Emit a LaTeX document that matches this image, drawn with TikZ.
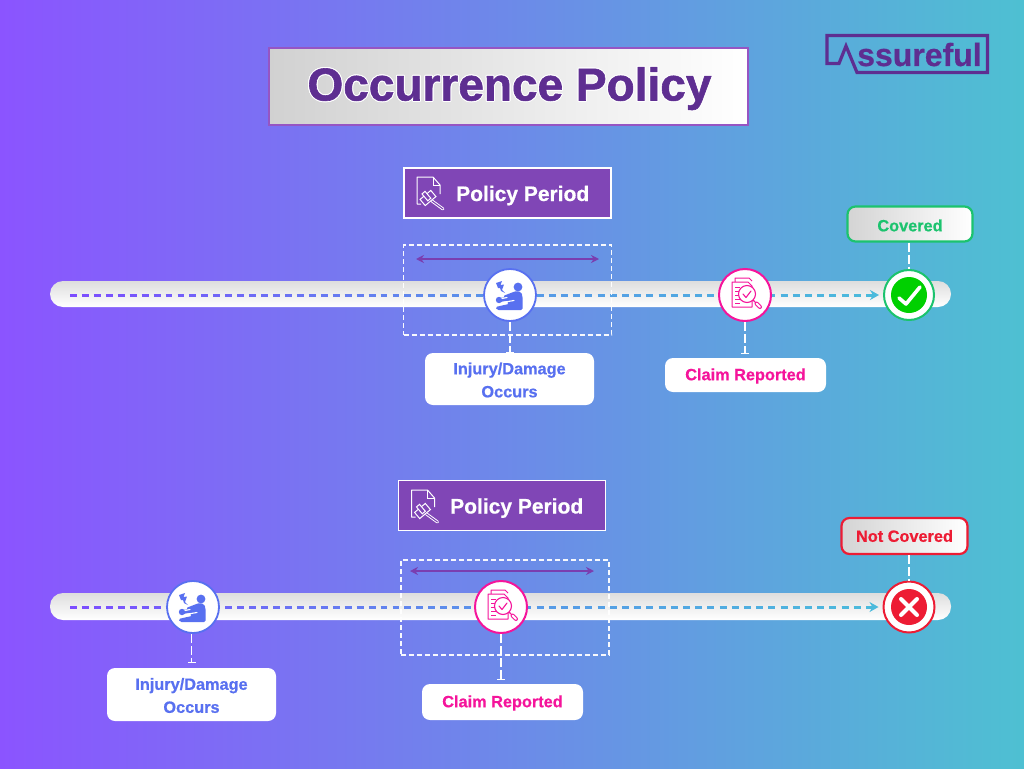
\documentclass[tikz,border=0pt]{standalone}
\usepackage{fontspec}
\usepackage[copies]{contour}
\contourlength{1pt}
\contournumber{16}
\setmainfont{Liberation Sans}[BoldFeatures={FakeBold=0.6}]
\newfontfamily\titlefont{Liberation Sans Bold}[FakeBold=1.3]
\usetikzlibrary{arrows.meta,calc,shapes.misc}
\definecolor{bgL}{RGB}{139,84,255}
\definecolor{bgR}{RGB}{78,192,210}
\definecolor{titleC}{RGB}{94,46,145}
\definecolor{titleB}{RGB}{150,85,195}
\definecolor{periodC}{RGB}{128,70,182}
\definecolor{arrowC}{RGB}{122,62,176}
\definecolor{blueC}{RGB}{88,112,240}
\definecolor{pinkC}{RGB}{245,20,155}
\definecolor{greenC}{RGB}{28,195,110}
\definecolor{okC}{RGB}{0,208,0}
\definecolor{redC}{RGB}{237,28,52}
\definecolor{lineA}{RGB}{124,77,255}
\definecolor{lineB}{RGB}{88,150,232}
\definecolor{lineC}{RGB}{75,186,220}
\newcommand{\gradseg}[5]{%
  \foreach \i in {1,...,#5}{%
    \pgfmathsetmacro{\ta}{(\i-1)/#5}%
    \pgfmathsetmacro{\tb}{(\i-0.42)/#5}%
    \pgfmathsetmacro{\pc}{100*(\i-1)/#5}%
    \draw[line width=3pt,color={#4!\pc!#3}] ($(#1)!\ta!(#2)$) -- ($(#1)!\tb!(#2)$);
  }}
\newcommand{\lowered}[2]{\raisebox{-#1pt}[\height][\depth]{#2}}
\tikzset{
  x=1pt,y=-1pt,
  barbox/.style={draw=none,rounded corners=13pt,minimum width=901pt,minimum height=26pt,inner sep=0pt,top color=black!13,bottom color=white},
  periodbox/.style={draw=white,line width=1.3pt,fill=periodC,minimum width=207pt,minimum height=50pt,inner sep=0pt},
  periodtext/.style={text=white,font=\fontsize{21}{24}\selectfont\bfseries,inner sep=0pt,anchor=base west},
  spanbox/.style={draw=white,draw opacity=.95,line width=1.1pt,dash pattern=on 5pt off 3pt,minimum width=208pt,inner sep=0pt},
  spanarrow/.style={draw=arrowC,line width=2.1pt,{Stealth[length=8pt,width=8pt]}-{Stealth[length=8pt,width=8pt]}},
  labelbox/.style={fill=white,rounded corners=8pt,inner sep=0pt,align=center,font=\fontsize{16.3}{23}\selectfont\bfseries},
  statusbox/.style={rounded corners=8pt,line width=2.2pt,left color=black!17,right color=white,inner sep=0pt,font=\fontsize{16.3}{18}\selectfont\bfseries},
  dot/.style={circle,fill=white,inner sep=0pt,minimum size=#1},
  stem/.style={draw=white,line width=1.3pt,dash pattern=on 9pt off 3pt,-{Bar[width=8pt,length=1pt]}},
  plainstem/.style={draw=white,line width=1.3pt,dash pattern=on 9pt off 3pt},
  docicon/.pic={
    \draw[white,line width=1pt,line join=round] (-8,12) -- (-12,12) -- (-12,-15) -- (4,-15) -- (11,-7) -- (11,2);
    \draw[white,line width=1pt] (4,-15) -- (4,-7) -- (11,-7);
    \draw[white,line width=1pt,fill=periodC,rotate around={40:(-1,6)}] (-8,2) rectangle (6,10);
    \draw[white,line width=1pt,fill=periodC,rotate around={40:(-1,6)}] (-3,8) rectangle (1,-1);
    \draw[white,line width=3pt,line cap=round] (3,9) -- (14,17);
    \draw[periodC,line width=1.1pt,line cap=round] (3,9) -- (14,17);
  },
  injuryicon/.pic={
    \fill[blueC] (8,-8) circle (4.4);
    \fill[blueC,rounded corners=1.5pt] (-7,1) -- (6,-4) -- (11,-3) -- (12.5,1) -- (12.5,15) -- (-13,15) -- (-14.5,12) -- (-8,10.5) -- (-1,9) -- cycle;
    \fill[blueC] (-11,5) circle (3.2);
    \draw[blueC,line width=4pt,line cap=round] (-10,5) -- (-3,4);
    \draw[white,line width=1.1pt,line cap=round] (-8,7.5) -- (4,5.5);
    \draw[white,line width=1.1pt,line cap=round] (-8,3.5) -- (-3,2.5);
    \fill[blueC] (-14,-12) -- (-8,-14) -- (-9.5,-10) -- (-6,-10.5) -- (-8,-5) -- (-5,-2) -- (-9,-4) -- (-10,-7) -- (-12,-7) -- cycle;
  },
  claimicon/.pic={
    \draw[pinkC,line width=1pt,line join=round] (-10,-13) -- (-10,-17) -- (4,-17) -- (7,-14);
    \draw[pinkC,line width=1pt,fill=white,line join=round] (-13,-13) -- (3,-13) -- (7,-9) -- (7,12) -- (-13,12) -- cycle;
    \foreach \yy in {-8,-4,0,4,8}{\draw[pinkC,line width=1pt] (-10,\yy) -- (-5,\yy);}
    \draw[pinkC,line width=1.1pt,fill=white] (2,-1) circle (8.5);
    \draw[pinkC,line width=1.1pt,line cap=round,line join=round] (-2,-1) -- (1,2.5) -- (6,-4);
    \draw[pinkC,line width=1.1pt] (8,5) -- (10,7);
    \draw[pinkC,line width=4pt,line cap=round] (11.5,8.5) -- (15,12);
    \draw[white,line width=2pt,line cap=round] (11.5,8.5) -- (15,12);
  },
  okicon/.pic={
    \fill[okC] (0,0) circle (18);
    \draw[white,line width=3.6pt,line cap=round,line join=round] (-10,3) -- (-3,9) -- (11,-8);
  },
  xicon/.pic={
    \fill[redC] (0,0) circle (18);
    \draw[white,line width=4pt,line cap=round] (-8,-8) -- (8,8) (-8,8) -- (8,-8);
  }
}
\begin{document}
\begin{tikzpicture}
\useasboundingbox (0,0) rectangle (1024,768);
\shade[left color=bgL,right color=bgR] (0,0) rectangle (1024,768);

% title
\node[draw=titleB,line width=1.1pt,left color=black!18,right color=white,minimum width=479pt,minimum height=77pt,inner sep=0pt] (title) at (508.5,86.5) {};
\node[text=titleC,font=\fontsize{46}{50}\selectfont\titlefont,inner sep=0pt,anchor=base] (titletext) at (509.5,100.5) {\contour{white}{Occurrence Policy}};

% logo
\draw[titleC,line width=3.2pt,line join=miter] (827,63.5) -- (827,35.5) -- (987.5,35.5) -- (987.5,72.5) -- (857,72.5) -- (846,46) -- (839,63.5) -- cycle;
\node[text=titleC,font=\fontsize{32}{34}\selectfont\bfseries,inner sep=0pt,anchor=base west] (logotext) at (857,66) {ssureful};

% ---------- upper timeline ----------
\node[barbox] (barA) at (500.5,294) {};
\coordinate (sA) at (70,295);
\coordinate (mA) at (500,295);
\coordinate (eA) at (866,295);
\gradseg{sA}{mA}{lineA}{lineB}{36}
\gradseg{mA}{eA}{lineB}{lineC}{30}
\node[periodbox] (periodA) at (507.5,193) {};
\pic at (429,192) {docicon};
\node[periodtext] (periodtextA) at (456,201) {Policy Period};
\node[spanbox,minimum height=90pt] (spanA) at (507.5,290) {};
\coordinate (spanAl) at (416,259);
\coordinate (spanAr) at (599,259);
\draw[spanarrow] (spanAl) -- (spanAr);

\node[dot=52pt,draw=blueC,line width=1.8pt] (injA) at (510,295) {};
\pic at (510,295) {injuryicon};
\node[dot=52pt,draw=pinkC,line width=2pt] (claimA) at (745,295) {};
\pic at (745,295) {claimicon};
\node[dot=50pt,draw=greenC,line width=2pt] (okA) at (909,295) {};
\pic at (909,295) {okicon};
\draw[line width=3pt,lineC,-{Stealth[length=9pt,width=10pt]},shorten >=4pt] (eA) -- (okA);

\node[labelbox,minimum width=169pt,minimum height=52pt,text=blueC] (labInjA) at (509.5,379) {\lowered{1}{Injury/Damage}\\\lowered{1}{Occurs}};
\node[labelbox,minimum width=161pt,minimum height=34pt,text=pinkC] (labClaimA) at (745.5,375) {\lowered{1}{Claim Reported}};
\node[statusbox,draw=greenC,minimum width=125pt,minimum height=35pt,text=greenC] (statA) at (910,224) {\lowered{1.5}{Covered}};
\draw[stem] (injA) -- (injA |- labInjA.north);
\draw[stem,shorten >=4pt] (claimA) -- (claimA |- labClaimA.north);
\draw[plainstem] (statA.south -| okA.north) -- (okA);

% ---------- lower timeline ----------
\node[barbox,minimum height=27pt] (barB) at (500.5,606.5) {};
\coordinate (sB) at (70,607);
\coordinate (mB) at (500,607);
\coordinate (eB) at (866,607);
\gradseg{sB}{mB}{lineA}{lineB}{36}
\gradseg{mB}{eB}{lineB}{lineC}{30}
\node[periodbox] (periodB) at (502,505.5) {};
\pic at (423.5,505) {docicon};
\node[periodtext] (periodtextB) at (450,513.5) {Policy Period};
\node[spanbox,minimum height=95pt] (spanB) at (505,607.5) {};
\coordinate (spanBl) at (410,571);
\coordinate (spanBr) at (594,571);
\draw[spanarrow] (spanBl) -- (spanBr);

\node[dot=52pt,draw=blueC,line width=1.8pt] (injB) at (193,607) {};
\pic at (193,607) {injuryicon};
\node[dot=52pt,draw=pinkC,line width=2pt] (claimB) at (501,607) {};
\pic at (501,607) {claimicon};
\node[dot=51pt,draw=redC,line width=2pt] (xB) at (909,607) {};
\pic at (909,607) {xicon};
\draw[line width=3pt,lineC,-{Stealth[length=9pt,width=10pt]},shorten >=4pt] (eB) -- (xB);

\node[labelbox,minimum width=169pt,minimum height=53pt,text=blueC] (labInjB) at (191.5,694.5) {\lowered{1}{Injury/Damage}\\\lowered{1}{Occurs}};
\node[labelbox,minimum width=161pt,minimum height=36pt,text=pinkC] (labClaimB) at (502.5,702) {\lowered{1}{Claim Reported}};
\node[statusbox,draw=redC,minimum width=126pt,minimum height=36pt,text=redC] (statB) at (904.5,536) {Not Covered};
\draw[stem,shorten >=5pt] (injB.south -| labInjB.north) -- (labInjB.north);
\draw[stem,shorten >=4pt] (claimB) -- (claimB |- labClaimB.north);
\draw[plainstem] (statB.south -| xB.north) -- (xB);
\end{tikzpicture}
\end{document}
